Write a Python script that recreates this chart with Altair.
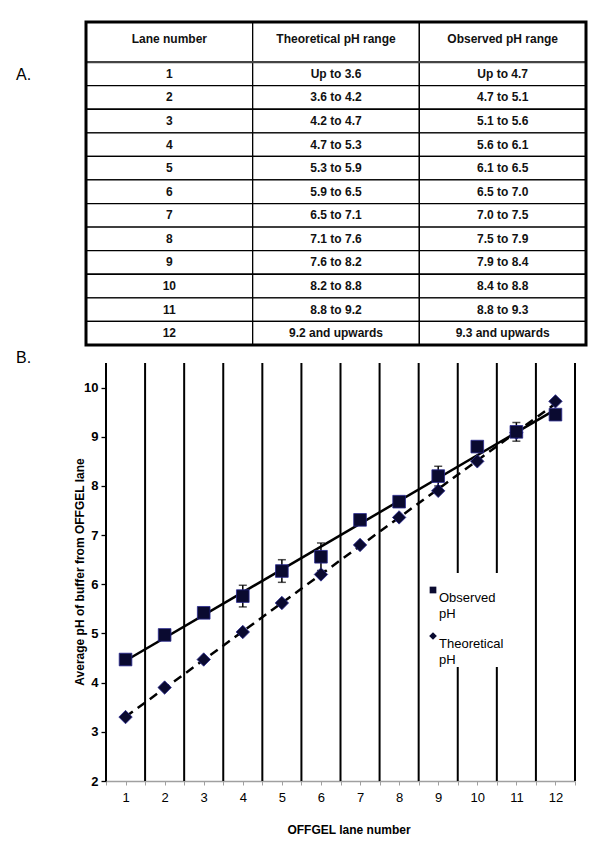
import altair as alt
import pandas as pd

# ---------------- data ----------------
lanes = list(range(1, 13))
observed_ph = [4.47, 4.97, 5.42, 5.76, 6.27, 6.56, 7.31, 7.68, 8.20, 8.80, 9.10, 9.45]
observed_err = [0.05, 0.04, 0.04, 0.22, 0.23, 0.28, 0.04, 0.05, 0.20, 0.10, 0.19, 0.05]
theoretical_ph = [3.30, 3.90, 4.47, 5.03, 5.62, 6.20, 6.80, 7.36, 7.90, 8.50, 9.08, 9.72]

table_headers = ["Lane number", "Theoretical pH range", "Observed pH range"]
theoretical_ranges = ["Up to 3.6", "3.6 to 4.2", "4.2 to 4.7", "4.7 to 5.3", "5.3 to 5.9",
                      "5.9 to 6.5", "6.5 to 7.1", "7.1 to 7.6", "7.6 to 8.2", "8.2 to 8.8",
                      "8.8 to 9.2", "9.2 and upwards"]
observed_ranges = ["Up to 4.7", "4.7 to 5.1", "5.1 to 5.6", "5.6 to 6.1", "6.1 to 6.5",
                   "6.5 to 7.0", "7.0 to 7.5", "7.5 to 7.9", "7.9 to 8.4", "8.4 to 8.8",
                   "8.8 to 9.3", "9.3 and upwards"]
y_ticks = [2, 3, 4, 5, 6, 7, 8, 9, 10]

# ---------------- layout constants ----------------
FONT = "Liberation Sans, Arial, sans-serif"
NAVY = "#0a0a30"
NAVY_EDGE = "#2a2a90"
W, H = 584, 833
HEADER_SPAN = 1.7

# ---------------- table (A) ----------------
rows = [table_headers] + [[str(l), t, o] for l, t, o in zip(lanes, theoretical_ranges, observed_ranges)]
cells = []
for r, row in enumerate(rows):
    top = 0 if r == 0 else HEADER_SPAN + r - 1
    bottom = HEADER_SPAN if r == 0 else HEADER_SPAN + r
    mid = 0.72 if r == 0 else top + 0.5
    for c, txt in enumerate(row):
        cells.append(dict(c0=c, c1=c + 1, cm=c + 0.5, r0=top, r1=bottom, rm=mid, text=txt))
tdf = pd.DataFrame(cells)
n_rows = HEADER_SPAN + len(lanes)
frame = pd.DataFrame({"c0": [0], "c1": [3], "r0": [0], "r1": [n_rows], "h": [HEADER_SPAN]})

tx = alt.Scale(domain=[0, 3], range=[78, 578], nice=False, zero=False)
ty = alt.Scale(domain=[0, n_rows], range=[14, 337], nice=False, zero=False)

cell_rects = alt.Chart(tdf).mark_rect(fill="white", stroke="black", strokeWidth=1.3).encode(
    x=alt.X("c0:Q", scale=tx, axis=None), x2="c1",
    y=alt.Y("r0:Q", scale=ty, axis=None), y2="r1")
cell_text = alt.Chart(tdf).mark_text(font=FONT, fontSize=12, fontWeight="bold", color="#111").encode(
    x=alt.X("cm:Q", scale=tx, axis=None), y=alt.Y("rm:Q", scale=ty, axis=None), text="text:N")
header_line = alt.Chart(frame).mark_rule(color="#444", strokeWidth=2.2).encode(
    x=alt.X("c0:Q", scale=tx, axis=None), x2="c1", y=alt.Y("h:Q", scale=ty, axis=None))
border = alt.Chart(frame).mark_rect(filled=False, stroke="black", strokeWidth=3).encode(
    x=alt.X("c0:Q", scale=tx, axis=None), x2="c1",
    y=alt.Y("r0:Q", scale=ty, axis=None), y2="r1")
table = alt.layer(cell_rects, header_line, cell_text, border)

# ---------------- plot (B) ----------------
pdf = pd.DataFrame({"lane": lanes, "observed": observed_ph, "err": observed_err,
                    "theoretical": theoretical_ph})
bounds = pd.DataFrame({"b": [l - 0.5 for l in lanes] + [lanes[-1] + 0.5],
                       "lo": y_ticks[0], "hi": 10.5})

xs = alt.Scale(domain=[0.5, 12.5], range=[98, 567], nice=False, zero=False)
ys = alt.Scale(domain=[2, 10.5], range=[773, 355], nice=False, zero=False)
x_vals = sorted(set([l for l in lanes] + [l - 0.5 for l in lanes] + [lanes[-1] + 0.5]))
x_axis = alt.Axis(orient="bottom", offset=-(H - 773), values=x_vals, grid=False, title=None,
                  labelExpr="datum.value % 1 == 0 ? format(datum.value, 'd') : ''",
                  domainColor="#a0a0a0", domainWidth=1.5, tickColor="#a0a0a0", tickSize=4,
                  labelFont=FONT, labelFontSize=13, labelColor="black", labelPadding=6)
y_axis = alt.Axis(orient="left", offset=-98, values=y_ticks, grid=False, title=None, domain=False,
                  tickColor="black", tickSize=5, tickWidth=1.3, labelFont=FONT, labelFontSize=13,
                  labelFontWeight="bold", labelColor="black", labelPadding=3)

X = lambda f: alt.X(f, scale=xs, axis=x_axis)
Y = lambda f: alt.Y(f, scale=ys, axis=y_axis)

grid_lines = alt.Chart(bounds).mark_rule(color="black", strokeWidth=2).encode(
    x=X("b:Q"), y=Y("lo:Q"), y2="hi")

one = pd.DataFrame({"k": [0]})
legend_box = alt.Chart(one).mark_rect(fill="white").encode(
    x=alt.value(417), x2=alt.value(503), y=alt.value(565), y2=alt.value(659))

# linear trend lines through each series
obs_line = alt.Chart(pdf).transform_regression("lane", "observed", method="linear").mark_line(
    color="black", strokeWidth=2.5).encode(x=X("lane:Q"), y=Y("observed:Q"))
theo_line = alt.Chart(pdf).transform_regression("lane", "theoretical", method="linear").mark_line(
    color="black", strokeWidth=2.5, strokeDash=[9, 6]).encode(x=X("lane:Q"), y=Y("theoretical:Q"))

err_base = alt.Chart(pdf).transform_calculate(
    lo="datum.observed - datum.err", hi="datum.observed + datum.err")
err_rule = err_base.mark_rule(color="black", strokeWidth=1.5).encode(
    x=X("lane:Q"), y=Y("lo:Q"), y2="hi:Q")
cap_lo = err_base.mark_tick(color="black", orient="horizontal", size=8, thickness=1.5).encode(
    x=X("lane:Q"), y=Y("lo:Q"))
cap_hi = err_base.mark_tick(color="black", orient="horizontal", size=8, thickness=1.5).encode(
    x=X("lane:Q"), y=Y("hi:Q"))

diamonds = alt.Chart(pdf).mark_point(shape="diamond", filled=True, size=180, fill=NAVY,
                                     stroke=NAVY_EDGE, strokeWidth=0.8, opacity=1).encode(
    x=X("lane:Q"), y=Y("theoretical:Q"))
squares = alt.Chart(pdf).mark_point(shape="square", filled=True, size=160, fill=NAVY,
                                    stroke=NAVY_EDGE, strokeWidth=0.8, opacity=1).encode(
    x=X("lane:Q"), y=Y("observed:Q"))


def label(text, x, y, size=12, weight="normal", angle=0, align="center"):
    return alt.Chart(one).mark_text(text=text, font=FONT, fontSize=size, fontWeight=weight,
                                    angle=angle, align=align, baseline="middle", color="black",
                                    lineBreak="\n", lineHeight=16).encode(
        x=alt.value(x), y=alt.value(y))


leg_sq = alt.Chart(one).mark_point(shape="square", filled=True, size=45, fill=NAVY, opacity=1).encode(
    x=alt.value(425), y=alt.value(582))
leg_di = alt.Chart(one).mark_point(shape="diamond", filled=True, size=60, fill=NAVY, opacity=1).encode(
    x=alt.value(425), y=alt.value(628))

plot = alt.layer(
    grid_lines, legend_box, theo_line, obs_line, err_rule, cap_lo, cap_hi, diamonds, squares,
    leg_sq, leg_di,
    label("Observed\npH", 431, 590, size=13, align="left"),
    label("Theoretical\npH", 431, 636, size=13, align="left"),
    label("A.", 8, 67, size=16, align="left"),
    label("B.", 8, 350, size=16, align="left"),
    label("Average pH of buffer from OFFGEL lane", 72, 564, size=12, weight="bold", angle=270),
    label("OFFGEL lane number", 341, 822, size=12, weight="bold"),
)

chart = alt.layer(table, plot).resolve_scale(x="independent", y="independent").properties(
    width=W, height=H, autosize=alt.AutoSizeParams(type="none"), padding=0
).configure_view(stroke="transparent")

chart.save("out.html", embed_options={"renderer": "svg", "actions": False})
